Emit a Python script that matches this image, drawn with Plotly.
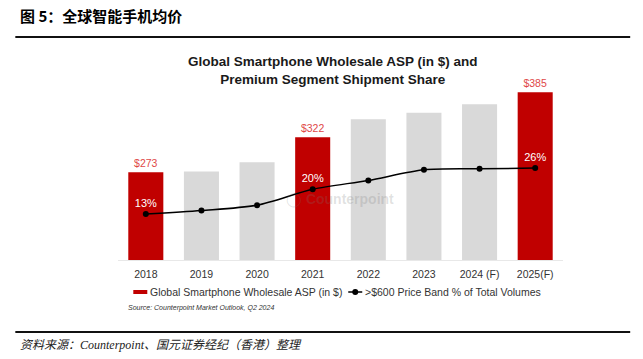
import plotly.graph_objects as go

# ---- data ----
years = ["2018", "2019", "2020", "2021", "2022", "2023", "2024 (F)", "2025(F)"]
asp = [273, 274, 287, 322, 347, 356, 368, 385]
premium_share = [13, 14, 15.5, 20, 22.5, 25.5, 25.8, 26]
highlight = [True, False, False, True, False, False, False, True]

RED = "#c00000"
GRAY = "#d9d9d9"
LABEL_RED = "#e04848"

W, H = 643, 359
L, R, T, B = 117.7, 562.8, 80, 260
PW, PH = R - L, B - T

def xp(px):
    return (px - L) / PW

def yp(py):
    return (B - py) / PH

bar_colors = [RED if h else GRAY for h in highlight]
bar_text = [f"${v}" if h else "" for v, h in zip(asp, highlight)]
pct_text = [f"{v:.0f}%" if h else "" for v, h in zip(premium_share, highlight)]

fig = go.Figure()
fig.add_trace(go.Bar(
    x=years, y=asp, marker=dict(color=bar_colors, line=dict(width=0)),
    width=0.63, text=bar_text, textposition="outside", cliponaxis=False,
    textfont=dict(family="Liberation Sans, Arial", size=10.5, color=LABEL_RED),
    showlegend=False, hoverinfo="skip",
))
fig.add_trace(go.Scatter(
    x=years, y=premium_share, yaxis="y2", mode="lines+markers+text",
    line=dict(color="black", width=1.5, shape="spline", smoothing=0.8),
    marker=dict(color="black", size=6),
    text=pct_text, textposition="top center",
    textfont=dict(family="Liberation Sans, Arial", size=11, color="white"),
    showlegend=False, cliponaxis=False,
))

annotations = [
    dict(text="<b>图 5：全球智能手机均价</b>", x=xp(18), y=yp(16), xanchor="left", yanchor="middle",
         font=dict(family="Noto Sans CJK SC", size=15, color="black")),
    dict(text="<b>Global Smartphone Wholesale ASP (in $) and<br>Premium Segment Shipment Share</b>",
         x=xp(333), y=yp(70), xanchor="center", yanchor="middle",
         font=dict(family="Liberation Sans, Arial", size=13.5, color="#1a1a1a")),
    dict(text="◯ <b>Counterpoint</b>", x=xp(340), y=yp(199), xanchor="center", yanchor="middle",
         font=dict(family="Liberation Sans, Arial", size=14, color="rgba(120,120,120,0.22)")),
    dict(text="Global Smartphone Wholesale ASP (in $)", x=xp(148), y=yp(292), xanchor="left", yanchor="middle",
         font=dict(family="Liberation Sans, Arial", size=10.5, color="#333333")),
    dict(text=">$600 Price Band % of Total Volumes", x=xp(363), y=yp(292), xanchor="left", yanchor="middle",
         font=dict(family="Liberation Sans, Arial", size=10.5, color="#333333")),
    dict(text="<i>Source: Counterpoint Market Outlook, Q2 2024</i>", x=xp(126), y=yp(308), xanchor="left", yanchor="middle",
         font=dict(family="Liberation Sans, Arial", size=7, color="#333333")),
    dict(text="<i>资料来源：Counterpoint、国元证券经纪（香港）整理</i>", x=xp(18), y=yp(345), xanchor="left", yanchor="middle",
         font=dict(family="Liberation Serif, Noto Sans CJK SC", size=12, color="#222222")),
]
for a in annotations:
    a.update(xref="paper", yref="paper", showarrow=False)

shapes = [
    dict(type="line", x0=xp(15), x1=xp(630), y0=yp(37), y1=yp(37), line=dict(color="#111111", width=2)),
    dict(type="line", x0=xp(15), x1=xp(630), y0=yp(332), y1=yp(332), line=dict(color="#111111", width=2)),
    dict(type="rect", x0=xp(133), x1=xp(147), y0=yp(290), y1=yp(294), fillcolor=RED, line=dict(width=0)),
    dict(type="line", x0=xp(348), x1=xp(362), y0=yp(292), y1=yp(292), line=dict(color="black", width=1.5)),
    dict(type="circle", x0=xp(352), x1=xp(358), y0=yp(289), y1=yp(295), fillcolor="black", line=dict(width=0)),
]
for s in shapes:
    s.update(xref="paper", yref="paper")

fig.update_layout(
    width=W, height=H,
    margin=dict(l=L, r=W - R, t=T, b=H - B, pad=0),
    paper_bgcolor="white", plot_bgcolor="white",
    bargap=0.37,
    xaxis=dict(type="category", range=[-0.5, 7.5], showgrid=False, zeroline=False,
               showline=True, linecolor="#e8e8e8", linewidth=1, ticks="",
               tickfont=dict(family="Liberation Sans, Arial", size=10.5, color="#333333"),
               ticklabelstandoff=4),
    yaxis=dict(range=[150, 402], visible=False, showgrid=False, zeroline=False),
    yaxis2=dict(range=[0, 50.9], overlaying="y", visible=False, showgrid=False, zeroline=False),
    annotations=annotations, shapes=shapes,
)

fig.write_html("out.html", config={"displayModeBar": False},
               post_script="document.body.style.margin='0';document.body.style.overflow='hidden';")
